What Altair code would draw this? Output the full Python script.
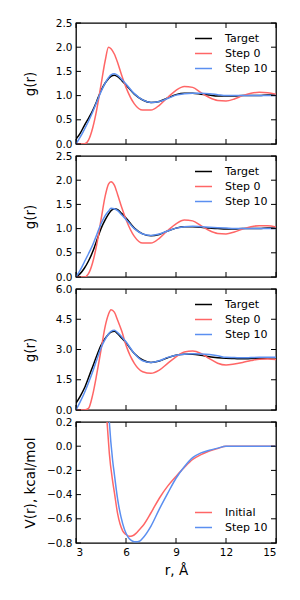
import altair as alt
import pandas as pd

# ---------------- data ----------------
R_G = [3.0, 3.25, 3.5, 3.75, 4.0, 4.25, 4.5, 4.75, 4.95, 5.1, 5.3, 5.5, 5.75, 6.0,
       6.5, 7.0, 7.5, 8.0, 8.5, 9.0, 9.5, 10.0, 10.5, 11.0, 11.5, 12.0, 12.5, 13.0,
       13.5, 14.0, 14.5, 15.0]

P1_TARGET = [0.10, 0.22, 0.38, 0.53, 0.69, 0.89, 1.10, 1.26, 1.35, 1.40, 1.42, 1.39, 1.31, 1.22,
             1.03, 0.91, 0.86, 0.88, 0.95, 1.02, 1.05, 1.05, 1.03, 1.01, 0.99, 0.99, 0.99, 1.00,
             1.00, 1.00, 1.01, 1.01]
P1_STEP0 = [0.0, 0.0, 0.0, 0.08, 0.33, 0.72, 1.22, 1.72, 2.00, 1.97, 1.86, 1.68, 1.41, 1.17,
            0.83, 0.70, 0.70, 0.80, 0.96, 1.11, 1.19, 1.17, 1.06, 0.96, 0.90, 0.89, 0.93, 1.00,
            1.05, 1.07, 1.06, 1.03]
P1_STEP10 = [0.0, 0.14, 0.30, 0.47, 0.66, 0.87, 1.08, 1.26, 1.37, 1.43, 1.45, 1.42, 1.33, 1.24,
             1.04, 0.91, 0.86, 0.88, 0.94, 1.01, 1.04, 1.05, 1.05, 1.04, 1.02, 1.00, 1.00, 1.00,
             1.00, 1.00, 1.00, 1.00]

P2_TARGET = [0.0, 0.07, 0.18, 0.33, 0.52, 0.76, 1.00, 1.18, 1.30, 1.37, 1.41, 1.39, 1.31, 1.22,
             1.01, 0.89, 0.85, 0.88, 0.95, 1.01, 1.04, 1.04, 1.03, 1.01, 1.00, 0.99, 0.99, 1.00,
             1.00, 1.00, 1.01, 1.01]
P2_STEP0 = [0.0, 0.0, 0.0, 0.07, 0.30, 0.68, 1.18, 1.67, 1.92, 1.97, 1.90, 1.70, 1.43, 1.19,
            0.84, 0.70, 0.70, 0.80, 0.96, 1.10, 1.18, 1.16, 1.06, 0.96, 0.90, 0.89, 0.93, 0.99,
            1.04, 1.06, 1.06, 1.03]
P2_STEP10 = [0.0, 0.14, 0.31, 0.48, 0.66, 0.88, 1.10, 1.27, 1.36, 1.42, 1.41, 1.37, 1.28, 1.19,
             1.00, 0.89, 0.86, 0.89, 0.95, 1.01, 1.04, 1.05, 1.04, 1.03, 1.02, 1.01, 1.00, 1.00,
             1.00, 1.00, 1.00, 1.00]

P3_TARGET = [0.34, 0.68, 1.08, 1.60, 2.15, 2.70, 3.21, 3.55, 3.76, 3.86, 3.90, 3.78, 3.56, 3.33,
             2.80, 2.48, 2.36, 2.43, 2.59, 2.72, 2.77, 2.77, 2.72, 2.64, 2.59, 2.56, 2.55, 2.54,
             2.55, 2.56, 2.58, 2.59]
P3_STEP0 = [0.0, 0.0, 0.0, 0.08, 0.75, 1.80, 2.97, 4.15, 4.75, 4.97, 4.85, 4.45, 3.90, 3.21,
            2.31, 1.90, 1.82, 1.98, 2.31, 2.64, 2.88, 2.92, 2.80, 2.55, 2.32, 2.23, 2.28, 2.36,
            2.45, 2.52, 2.53, 2.51]
P3_STEP10 = [0.0, 0.40, 0.84, 1.35, 1.90, 2.50, 3.08, 3.50, 3.77, 3.90, 3.95, 3.84, 3.62, 3.38,
             2.80, 2.44, 2.36, 2.44, 2.61, 2.72, 2.77, 2.79, 2.78, 2.75, 2.69, 2.61, 2.60, 2.59,
             2.60, 2.61, 2.62, 2.62]

R_V = [4.5, 4.7, 4.9, 5.0, 5.2, 5.3, 5.5, 5.8, 6.0, 6.2, 6.4, 6.6, 6.8, 7.0, 7.5, 8.0,
       8.5, 9.0, 9.5, 10.0, 10.5, 11.0, 11.5, 12.0, 13.0, 14.0, 15.0]
V_INITIAL = [1.20, 0.55, 0.13, -0.06, -0.29, -0.38, -0.56, -0.70, -0.73, -0.745, -0.74, -0.72,
             -0.69, -0.66, -0.55, -0.43, -0.33, -0.25, -0.175, -0.11, -0.07, -0.04, -0.02, 0.0,
             0.0, 0.0, 0.0]
V_STEP10 = [1.90, 1.00, 0.45, 0.20, -0.12, -0.23, -0.44, -0.64, -0.72, -0.765, -0.785, -0.79,
            -0.785, -0.76, -0.66, -0.52, -0.39, -0.265, -0.17, -0.095, -0.055, -0.033, -0.016,
            0.0, 0.0, 0.0, 0.0]

G_SERIES = ["Target", "Step 0", "Step 10"]
V_SERIES = ["Initial", "Step 10"]
X_TICKS = [3, 6, 9, 12, 15]
G_TICKS = [0.0, 0.5, 1.0, 1.5, 2.0, 2.5]
G3_TICKS = [0.0, 1.5, 3.0, 4.5, 6.0]
V_TICKS = [-0.8, -0.6, -0.4, -0.2, 0.0, 0.2]

# ---------------- styling ----------------
FONT = "DejaVu Sans"
RED = "#ff6666"
BLUE = "#5b8ff0"
BLACK = "#000000"
W, H = 200, 121
TICK = 5


def frame(r, series_names, columns):
    rows = []
    for name, vals in zip(series_names, columns):
        for x, v in zip(r, vals):
            rows.append({"r": x, "v": v, "series": name})
    return pd.DataFrame(rows)


def axis(**kw):
    base = dict(ticks=False, domain=False, grid=False,
                labelFont=FONT, labelFontSize=10.5, labelColor=BLACK,
                titleFont=FONT, titleFontSize=13.5, titleColor=BLACK, titleFontWeight="normal")
    base.update(kw)
    return alt.Axis(**base)


def panel(df, names, colors, ydom, yticks, ylabel, legend_y, bottom):
    xs = alt.Scale(domain=[3, 15], nice=False, zero=False)
    ys = alt.Scale(domain=ydom, nice=False, zero=False)
    if bottom:
        xaxis = axis(values=X_TICKS, format="d", labelPadding=4, title="r, Å", titlePadding=6)
    else:
        xaxis = axis(values=X_TICKS, labels=False)
    yaxis = axis(values=yticks, format=".1f", labelPadding=4, title=ylabel,
                 titleX=-42, titleY=H / 2, titleBaseline="alphabetic")
    lines = alt.Chart(df).mark_line(interpolate="monotone", strokeWidth=1.5, clip=True).encode(
        x=alt.X("r:Q", scale=xs, axis=xaxis, title="r, Å" if bottom else None),
        y=alt.Y("v:Q", scale=ys, axis=yaxis, title=ylabel),
        color=alt.Color("series:N", sort=names,
                        scale=alt.Scale(domain=names, range=colors),
                        legend=alt.Legend(title=None, orient="none", legendX=118, legendY=legend_y,
                                          symbolType="stroke", symbolSize=289, symbolStrokeWidth=1.5,
                                          labelFont=FONT, labelFontSize=11, labelColor=BLACK,
                                          labelOffset=12, rowPadding=0, padding=0)),
    )
    xt = pd.DataFrame({"t": X_TICKS})
    yt = pd.DataFrame({"t": yticks})
    rule = dict(color=BLACK, strokeWidth=1)
    x_bot = alt.Chart(xt).mark_rule(**rule).encode(
        x=alt.X("t:Q", scale=xs, axis=None), y=alt.value(H - TICK), y2=alt.value(H))
    x_top = alt.Chart(xt).mark_rule(**rule).encode(
        x=alt.X("t:Q", scale=xs, axis=None), y=alt.value(0), y2=alt.value(TICK))
    y_left = alt.Chart(yt).mark_rule(**rule).encode(
        y=alt.Y("t:Q", scale=ys, axis=None), x=alt.value(0), x2=alt.value(TICK))
    y_right = alt.Chart(yt).mark_rule(**rule).encode(
        y=alt.Y("t:Q", scale=ys, axis=None), x=alt.value(W - TICK), x2=alt.value(W))
    return alt.layer(lines, x_bot, x_top, y_left, y_right).resolve_axis(
        x="independent", y="independent").properties(width=W, height=H)


p1 = panel(frame(R_G, G_SERIES, [P1_TARGET, P1_STEP0, P1_STEP10]), G_SERIES, [BLACK, RED, BLUE],
           [0, 2.5], G_TICKS, "g(r)", 6, False)
p2 = panel(frame(R_G, G_SERIES, [P2_TARGET, P2_STEP0, P2_STEP10]), G_SERIES, [BLACK, RED, BLUE],
           [0, 2.5], G_TICKS, "g(r)", 6, False)
p3 = panel(frame(R_G, G_SERIES, [P3_TARGET, P3_STEP0, P3_STEP10]), G_SERIES, [BLACK, RED, BLUE],
           [0, 6.0], G3_TICKS, "g(r)", 6, False)
p4 = panel(frame(R_V, V_SERIES, [V_INITIAL, V_STEP10]), V_SERIES, [RED, BLUE],
           [-0.8, 0.2], V_TICKS, "V(r), kcal/mol", 81, True)

chart = alt.vconcat(p1, p2, p3, p4, spacing=12, bounds="flush").resolve_scale(
    x="independent", y="independent", color="independent"
).resolve_legend(color="independent").properties(
    padding={"left": 14, "top": 9, "right": 5, "bottom": 5}
).configure_view(stroke=BLACK, strokeWidth=1.3)

chart.save("out.html", embed_options={"renderer": "svg", "actions": False})
